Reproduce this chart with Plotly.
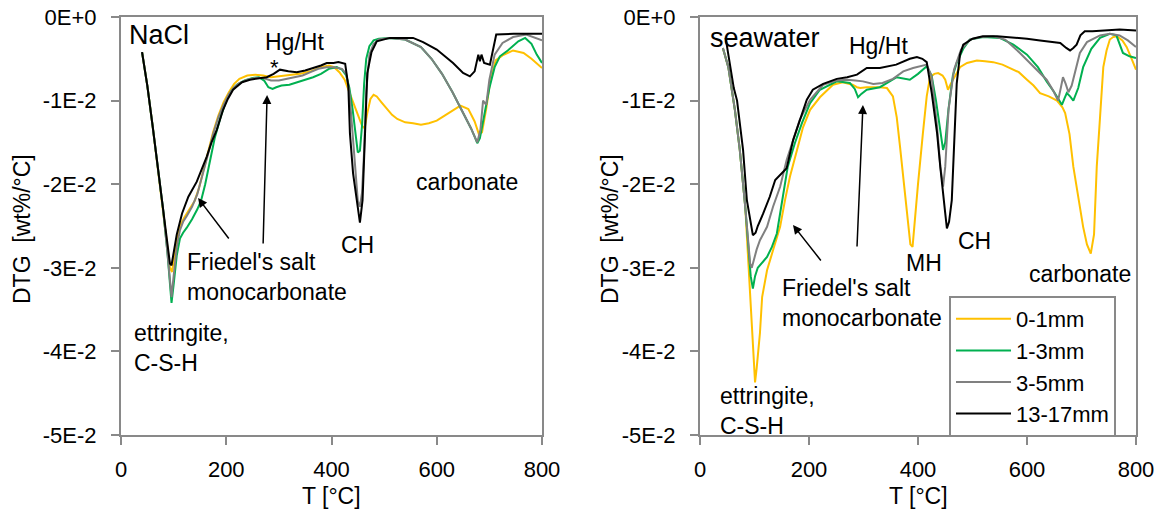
import numpy as np
import plotly.graph_objects as go

# ---------------- DATA (DTG values in units of 1E-2 wt%/°C, sign: negative) ----------------
SERIES = ["0-1mm", "1-3mm", "3-5mm", "13-17mm"]
COLORS = ["#FFC000", "#00B050", "#808080", "#000000"]

# NaCl panel
T_nacl_01 = [40, 50, 60, 70, 80, 88, 93, 97, 100, 106, 112, 120, 130, 140, 148, 156, 165, 175, 185, 195, 205, 215, 225, 240, 255, 270, 285, 300, 320, 340, 360, 380, 395, 405, 415, 425, 435, 445, 452, 458, 463, 468, 474, 480, 486, 495, 505, 515, 525, 540, 555, 570, 585, 600, 615, 630, 645, 660, 672, 680, 686, 694, 702, 712, 725, 745, 765, 780, 800]
D_nacl_01 = [0.42, 0.82, 1.3, 1.8, 2.3, 2.75, 3.0, 3.05, 2.9, 2.65, 2.5, 2.4, 2.3, 2.2, 2.05, 1.85, 1.6, 1.38, 1.18, 1.02, 0.9, 0.8, 0.74, 0.7, 0.69, 0.7, 0.72, 0.71, 0.7, 0.68, 0.65, 0.6, 0.58, 0.6, 0.66, 0.75, 0.92, 1.1, 1.2, 1.3, 1.33, 1.15, 0.98, 0.93, 0.95, 1.02, 1.1, 1.17, 1.22, 1.26, 1.27, 1.29, 1.27, 1.24, 1.18, 1.12, 1.06, 1.1, 1.25, 1.4, 1.38, 1.1, 0.75, 0.52, 0.46, 0.4, 0.43, 0.5, 0.61]

T_nacl_13 = [40, 50, 60, 70, 80, 88, 93, 96, 100, 106, 112, 118, 125, 135, 145, 152, 160, 168, 178, 190, 200, 210, 220, 235, 250, 262, 272, 280, 288, 295, 305, 320, 335, 350, 365, 380, 395, 410, 420, 428, 434, 440, 446, 450, 454, 458, 462, 466, 472, 480, 490, 510, 540, 570, 590, 610, 630, 645, 655, 665, 672, 677, 682, 690, 700, 710, 720, 735, 755, 768, 780, 790, 800]
D_nacl_13 = [0.42, 0.82, 1.3, 1.8, 2.3, 2.8, 3.25, 3.42, 3.2, 2.85, 2.65, 2.58, 2.52, 2.42, 2.3, 2.2, 2.0, 1.75, 1.45, 1.18, 1.0, 0.88, 0.81, 0.76, 0.73, 0.72, 0.76, 0.84, 0.86, 0.84, 0.82, 0.81, 0.78, 0.75, 0.72, 0.68, 0.62, 0.6, 0.63, 0.7, 0.85, 1.1, 1.45, 1.62, 1.6, 1.3, 0.8, 0.5, 0.35, 0.28, 0.26, 0.25, 0.27, 0.36, 0.5, 0.68, 0.9, 1.08, 1.2, 1.33, 1.43, 1.51, 1.45, 1.2, 0.85, 0.6, 0.47, 0.4, 0.29, 0.25, 0.32, 0.45, 0.55]

T_nacl_35 = [40, 50, 60, 70, 80, 88, 93, 96, 100, 106, 112, 118, 125, 135, 145, 155, 165, 175, 185, 195, 205, 215, 225, 240, 255, 270, 285, 300, 315, 330, 345, 360, 375, 390, 405, 420, 428, 434, 440, 446, 450, 454, 458, 462, 466, 472, 480, 490, 510, 540, 570, 590, 610, 630, 645, 655, 665, 672, 677, 683, 688, 694, 700, 710, 725, 745, 770, 800]
D_nacl_35 = [0.42, 0.82, 1.3, 1.8, 2.3, 2.8, 3.2, 3.35, 3.1, 2.75, 2.55, 2.45, 2.38, 2.27, 2.12, 1.9, 1.65, 1.4, 1.2, 1.05, 0.92, 0.84, 0.79, 0.75, 0.73, 0.73, 0.76, 0.76, 0.74, 0.72, 0.7, 0.66, 0.62, 0.6, 0.6, 0.62, 0.68, 0.9, 1.4, 1.95, 2.2, 2.27, 2.1, 1.6, 0.9, 0.45, 0.32, 0.27, 0.25, 0.27, 0.36, 0.5, 0.68, 0.9, 1.08, 1.2, 1.33, 1.43, 1.5, 1.35, 1.0, 1.05, 0.75, 0.45, 0.31, 0.24, 0.21, 0.28]

T_nacl_1317 = [40, 50, 60, 70, 80, 88, 93, 96, 100, 106, 116, 128, 144, 152, 163, 172, 182, 194, 203, 213, 230, 245, 262, 277, 290, 302, 318, 334, 350, 366, 380, 391, 404, 413, 426, 432, 435, 441, 449, 454, 459, 463, 468, 476, 486, 511, 555, 574, 600, 631, 650, 663, 672, 679, 682, 685, 690, 701, 707, 713, 746, 800]
D_nacl_1317 = [0.42, 0.82, 1.3, 1.8, 2.3, 2.7, 2.95, 2.97, 2.8, 2.6, 2.35, 2.15, 1.97, 1.85, 1.67, 1.5, 1.35, 1.11, 0.98, 0.87, 0.78, 0.75, 0.73, 0.72, 0.68, 0.63, 0.65, 0.66, 0.64, 0.61, 0.58, 0.55, 0.55, 0.54, 0.56, 0.83, 1.39, 1.87, 2.27, 2.46, 2.19, 1.39, 0.67, 0.42, 0.29, 0.25, 0.25, 0.3, 0.39, 0.55, 0.67, 0.71, 0.65, 0.45, 0.53, 0.45, 0.55, 0.57, 0.39, 0.21, 0.2, 0.2]

# Seawater panel
T_sw_01 = [42, 52, 64, 73, 83, 88, 92, 96, 99, 101, 104, 107, 110, 114, 123, 134, 147, 156, 165, 178, 189, 202, 220, 244, 262, 280, 288, 294, 306, 330, 343, 354, 361, 367, 374, 380, 386, 390, 393, 400, 409, 416, 422, 430, 437, 445, 450, 455, 460, 464, 470, 477, 490, 508, 523, 538, 555, 569, 585, 600, 612, 624, 640, 655, 665, 670, 678, 685, 694, 703, 710, 717, 723, 728, 734, 740, 746, 752, 758, 765, 775, 783, 792, 800]
D_sw_01 = [0.37, 0.6, 1.11, 1.59, 2.27, 2.83, 3.3, 3.8, 4.2, 4.37, 4.2, 4.0, 3.78, 3.35, 3.03, 2.79, 2.51, 2.19, 1.91, 1.59, 1.32, 1.11, 0.96, 0.81, 0.78, 0.81, 0.84, 0.85, 0.84, 0.84, 0.85, 0.95, 1.2, 1.55, 2.0, 2.4, 2.72, 2.75, 2.5, 2.0, 1.39, 0.95, 0.72, 0.68, 0.67, 0.7, 0.75, 0.87, 0.8, 0.75, 0.67, 0.6, 0.55, 0.52, 0.53, 0.54, 0.57, 0.61, 0.66, 0.75, 0.82, 0.91, 0.95, 1.0, 1.08, 1.15, 1.4, 1.79, 2.15, 2.51, 2.72, 2.83, 2.6, 1.79, 1.2, 0.6, 0.4, 0.27, 0.24, 0.23, 0.28, 0.36, 0.5, 0.63]

T_sw_13 = [42, 52, 64, 73, 83, 88, 93, 97, 101, 106, 112, 123, 132, 141, 152, 161, 174, 187, 202, 220, 251, 275, 284, 290, 296, 306, 330, 361, 385, 400, 416, 425, 433, 440, 446, 450, 456, 464, 471, 483, 495, 520, 550, 575, 600, 620, 636, 650, 664, 669, 673, 679, 685, 694, 703, 718, 734, 752, 764, 776, 788, 800]
D_sw_13 = [0.37, 0.6, 1.11, 1.59, 2.27, 2.75, 3.1, 3.25, 3.1, 3.0, 2.95, 2.87, 2.75, 2.59, 2.15, 1.79, 1.51, 1.27, 1.03, 0.87, 0.77, 0.79, 0.86, 0.96, 0.92, 0.87, 0.84, 0.72, 0.75, 0.68, 0.59, 0.7, 1.0, 1.35, 1.59, 1.5, 1.1, 0.7, 0.55, 0.38, 0.27, 0.24, 0.25, 0.33, 0.45, 0.6, 0.77, 0.9, 1.05, 0.97, 0.91, 0.95, 1.0, 0.85, 0.6, 0.38, 0.25, 0.2, 0.22, 0.43, 0.47, 0.49]

T_sw_35 = [42, 52, 64, 73, 83, 88, 92, 95, 99, 104, 110, 123, 134, 147, 159, 171, 183, 202, 226, 250, 270, 285, 299, 318, 335, 354, 373, 391, 405, 416, 425, 435, 441, 446, 450, 456, 466, 479, 495, 515, 538, 560, 587, 610, 636, 648, 657, 662, 666, 671, 676, 682, 690, 697, 710, 734, 752, 770, 785, 800]
D_sw_35 = [0.37, 0.6, 1.11, 1.59, 2.27, 2.7, 2.95, 3.0, 2.9, 2.78, 2.67, 2.51, 2.27, 2.03, 1.71, 1.47, 1.23, 0.99, 0.81, 0.76, 0.75, 0.76, 0.77, 0.8, 0.79, 0.74, 0.65, 0.61, 0.59, 0.57, 0.71, 1.31, 1.79, 2.03, 1.79, 1.11, 0.63, 0.39, 0.27, 0.24, 0.23, 0.27, 0.43, 0.58, 0.75, 0.88, 1.0, 0.85, 0.72, 0.8, 0.9, 0.82, 0.6, 0.43, 0.3, 0.22, 0.2, 0.22, 0.28, 0.36]

T_sw_1317 = [47, 55, 62, 68, 74, 79, 86, 92, 97, 102, 106, 116, 128, 138, 147, 159, 171, 183, 196, 207, 226, 251, 270, 288, 306, 330, 360, 385, 398, 408, 416, 425, 435, 441, 446, 450, 453, 457, 462, 466, 471, 477, 483, 500, 519, 545, 569, 600, 624, 645, 661, 672, 679, 685, 691, 698, 706, 720, 740, 770, 800]
D_sw_1317 = [0.25, 0.6, 0.85, 1.0, 1.3, 1.59, 2.19, 2.45, 2.61, 2.58, 2.5, 2.35, 2.15, 1.95, 1.89, 1.81, 1.47, 1.23, 0.99, 0.87, 0.8, 0.74, 0.72, 0.69, 0.61, 0.61, 0.57, 0.5, 0.48, 0.5, 0.54, 0.9, 1.39, 1.8, 2.07, 2.35, 2.53, 2.45, 2.19, 1.5, 0.8, 0.45, 0.33, 0.26, 0.23, 0.23, 0.24, 0.26, 0.28, 0.3, 0.31, 0.37, 0.4, 0.37, 0.33, 0.22, 0.17, 0.17, 0.16, 0.15, 0.16]

NACL = [(T_nacl_01, D_nacl_01), (T_nacl_13, D_nacl_13), (T_nacl_35, D_nacl_35), (T_nacl_1317, D_nacl_1317)]
SEAW = [(T_sw_01, D_sw_01), (T_sw_13, D_sw_13), (T_sw_35, D_sw_35), (T_sw_1317, D_sw_1317)]

Y_TICKVALS = [0, -0.01, -0.02, -0.03, -0.04, -0.05]
Y_TICKTEXT = ["0E+0", "-1E-2", "-2E-2", "-3E-2", "-4E-2", "-5E-2"]
X_TICKVALS = [0, 200, 400, 600, 800]
UNIT = -0.01  # stored values are magnitudes in 1E-2 wt%/°C

# ---------------- FIGURE ----------------
W, H = 1163, 515
FONT = "Arial, Liberation Sans, sans-serif"
AXC = "#898989"

fig = go.Figure()
for i, (t, d) in enumerate(NACL):
    fig.add_trace(go.Scatter(x=t, y=np.array(d) * UNIT, mode="lines", name=SERIES[i],
                             line=dict(color=COLORS[i], width=2), showlegend=False,
                             xaxis="x", yaxis="y"))
for i, (t, d) in enumerate(SEAW):
    fig.add_trace(go.Scatter(x=t, y=np.array(d) * UNIT, mode="lines", name=SERIES[i],
                             line=dict(color=COLORS[i], width=2), showlegend=True,
                             xaxis="x2", yaxis="y2"))

def xax(domain, anchor):
    return dict(domain=domain, anchor=anchor, range=[0, 800], tickvals=X_TICKVALS,
                showline=True, linecolor=AXC, linewidth=2, mirror=True,
                ticks="outside", ticklen=8, tickwidth=2, tickcolor=AXC,
                showgrid=False, zeroline=False, ticklabelstandoff=6, automargin=False,
                tickfont=dict(family=FONT, size=22, color="black"))

def yax(domain, anchor):
    return dict(domain=domain, anchor=anchor, range=[-0.05, 0], tickvals=Y_TICKVALS,
                ticktext=Y_TICKTEXT, showline=True, linecolor=AXC, linewidth=2, mirror=True,
                ticks="outside", ticklen=8, tickwidth=2, tickcolor=AXC,
                showgrid=False, zeroline=False, ticklabelstandoff=10, automargin=False,
                tickfont=dict(family=FONT, size=22, color="black"))

ydom = [1 - 435 / H, 1 - 17 / H]
fig.update_layout(
    template="none",
    width=W, height=H, margin=dict(l=0, r=0, t=0, b=0, pad=0, autoexpand=False),
    paper_bgcolor="white", plot_bgcolor="white",
    xaxis=xax([121 / W, 542 / W], "y"),
    yaxis=yax(ydom, "x"),
    xaxis2=xax([700 / W, 1136 / W], "y2"),
    yaxis2=yax(ydom, "x2"),
    legend=dict(x=949 / W, y=1 - 296 / H, xanchor="left", yanchor="top",
                bordercolor=AXC, borderwidth=2, bgcolor="white", itemwidth=55,
                tracegroupgap=0,
                font=dict(family=FONT, size=22, color="black")),
    font=dict(family=FONT, color="black"),
)

ann = []
def txt(text, x, v, xref, yref, size=23, xanchor="left", align="left"):
    ann.append(dict(text=text, x=x, y=v * UNIT, xref=xref, yref=yref, showarrow=False,
                    xanchor=xanchor, yanchor="middle", align=align,
                    font=dict(family=FONT, size=size, color="black")))

def arrow(hx, hv, tx, tv, xref, yref):
    ann.append(dict(text="", x=hx, y=hv * UNIT, ax=tx, ay=tv * UNIT, xref=xref, yref=yref,
                    axref=xref, ayref=yref, showarrow=True, arrowhead=2, arrowsize=1.2,
                    arrowwidth=1.5, arrowcolor="black", standoff=0, startstandoff=0))

# NaCl annotations
txt("NaCl", 11, 0.215, "x", "y", size=27)
txt("Hg/Ht", 270, 0.30, "x", "y")
txt("*", 279, 0.6, "x", "y", size=22)
txt("CH", 449, 2.73, "x", "y", xanchor="center")
txt("carbonate", 658, 1.97, "x", "y", xanchor="center")
txt("Friedel's salt<br>monocarbonate", 122, 3.11, "x", "y")
txt("ettringite,<br>C-S-H", 21, 3.96, "x", "y")
arrow(146.4, 2.165, 207, 2.667, "x", "y")
arrow(277.6, 0.933, 270, 2.727, "x", "y")

# Seawater annotations
txt("seawater", 14.7, 0.25, "x2", "y2", size=27)
txt("Hg/Ht", 270, 0.35, "x2", "y2")
txt("MH", 411, 2.94, "x2", "y2", xanchor="center")
txt("CH", 503, 2.68, "x2", "y2", xanchor="center")
txt("carbonate", 697, 3.07, "x2", "y2", xanchor="center")
txt("Friedel's salt<br>monocarbonate", 147, 3.42, "x2", "y2")
txt("ettringite,<br>C-S-H", 33, 4.71, "x2", "y2")
arrow(170.6, 2.488, 223.9, 2.93, "x2", "y2")
arrow(299, 1.053, 288, 2.763, "x2", "y2")

# axis titles
for xr in ["x domain", "x2 domain"]:
    ann.append(dict(text="T [°C]", x=0.5, y=1 - 496 / H, xref=xr, yref="paper",
                    showarrow=False, xanchor="center", yanchor="middle",
                    font=dict(family=FONT, size=23, color="black")))
for px in [22, 610]:
    ann.append(dict(text="DTG  [wt%/°C]", x=px / W, y=1 - 229 / H, xref="paper", yref="paper",
                    showarrow=False, xanchor="center", yanchor="middle", textangle=-90,
                    font=dict(family=FONT, size=23, color="black")))

fig.update_layout(annotations=ann)
fig.write_html("out.html")
